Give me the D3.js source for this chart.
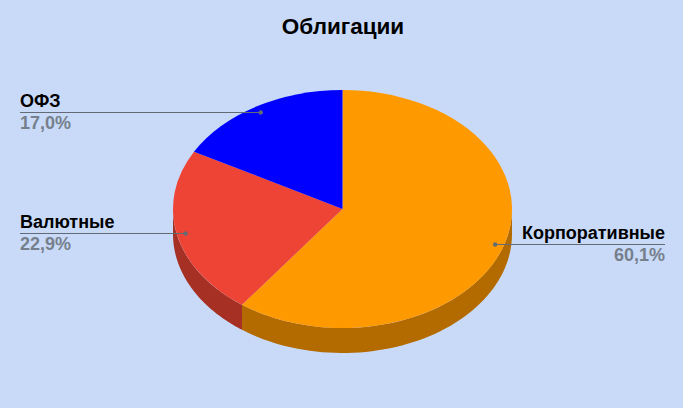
<!DOCTYPE html>
<html><head><meta charset="utf-8">
<script src="https://cdn.jsdelivr.net/npm/d3@7/dist/d3.min.js"></script>
<style>html,body{margin:0;padding:0;background:#c9daf8}svg{display:block}text{font-family:"Liberation Sans",Arial,sans-serif}</style>
</head><body><svg id="c" width="683" height="408"></svg>
<script>
const titleText = "Облигации";
const categories = ["Корпоративные","Валютные","ОФЗ"];
const shares = [60.1,22.9,17.0];
const topColors = ["#ff9900","#ee4435","#0000ff"];
const sideColors = ["#b36b00","#a73025","#0000b3"];

(function(){
const W=683,H=408,cx=342.5,cy=209,rx=169.5,ry=119,depth=25;
const svg=d3.select("#c");
svg.append("rect").attr("width",W).attr("height",H).attr("fill","#c9daf8");
svg.append("text").attr("x",343).attr("y",34).attr("text-anchor","middle")
  .attr("font-size",22.5).attr("font-weight","bold").attr("fill","#000").text(titleText);

const xS=d3.scaleLinear().domain([-1,1]).range([cx-rx,cx+rx]);
const yS=d3.scaleLinear().domain([-1,1]).range([cy-ry,cy+ry]);
const pie=d3.pie().sort(null).value(d=>d.v);
const arcs=pie(categories.map((c,i)=>({c,v:shares[i],i})));
const px=(a,r=1)=>xS(r*Math.sin(a)), py=(a,r=1)=>yS(-r*Math.cos(a));

const line=d3.line().x(d=>d[0]).y(d=>d[1]);
arcs.forEach(s=>{
  const a0=Math.max(s.startAngle,Math.PI/2),a1=Math.min(s.endAngle,Math.PI*1.5);
  if(a1<=a0)return;
  const as=d3.range(0,61).map(k=>a0+(a1-a0)*k/60);
  const pts=as.map(a=>[px(a),py(a)]).concat(as.slice().reverse().map(a=>[px(a),py(a)+depth]));
  svg.append("path").attr("d",line(pts)+"Z").attr("fill",sideColors[s.data.i]);
});

const arc=d3.arc().innerRadius(0).outerRadius(100);
const face=svg.append("g").attr("transform",`translate(${cx},${cy}) scale(${rx/100},${ry/100})`);
face.selectAll("path").data(arcs).join("path").attr("d",arc).attr("fill",d=>topColors[d.data.i]);

const fmt=v=>v.toFixed(1).replace(".",",")+"%";
const lineCol="#636b75";
arcs.forEach(s=>{
  const mid=(s.startAngle+s.endAngle)/2,dx=px(mid,.948),dy=Math.round(py(mid,.948));
  const right=mid<Math.PI;
  const tx=right?665:20,anchor=right?"end":"start";
  svg.append("line").attr("x1",dx).attr("x2",tx).attr("y1",dy+.5).attr("y2",dy+.5)
    .attr("stroke",lineCol).attr("stroke-width",1);
  svg.append("circle").attr("cx",dx).attr("cy",dy+.5).attr("r",2.2).attr("fill",lineCol);
  svg.append("text").attr("x",tx).attr("y",dy-5).attr("text-anchor",anchor)
    .attr("font-size",18).attr("font-weight","bold").attr("fill","#000").text(s.data.c);
  svg.append("text").attr("x",tx).attr("y",dy+17).attr("text-anchor",anchor)
    .attr("font-size",18).attr("font-weight","bold").attr("fill","#76808c").text(fmt(s.data.v));
});
})();
</script></body></html>
